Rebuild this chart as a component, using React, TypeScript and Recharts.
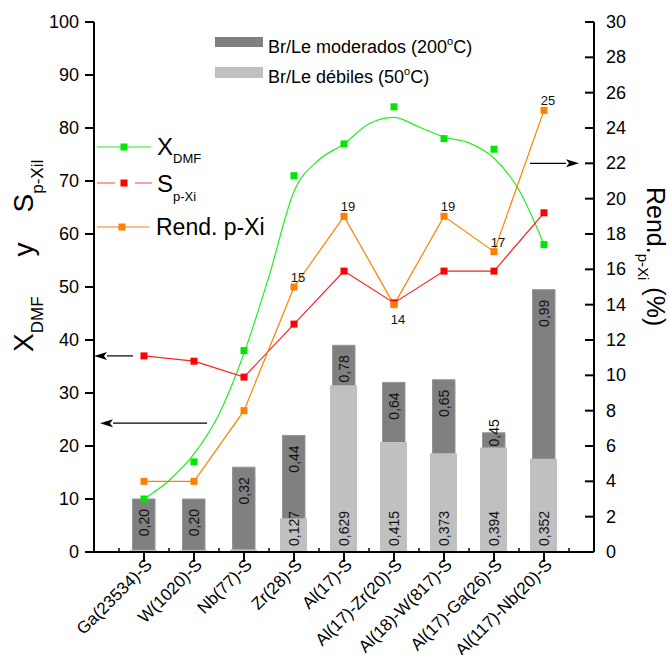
import React from "react";
import { Bar, ComposedChart, LabelList, Line, ReferenceLine, XAxis, YAxis } from "recharts";

const FONT = "'Liberation Sans', Arial, sans-serif";

const catalysts = [
  "Ga(23534)-S",
  "W(1020)-S",
  "Nb(77)-S",
  "Zr(28)-S",
  "Al(17)-S",
  "Al(17)-Zr(20)-S",
  "Al(18)-W(817)-S",
  "Al(17)-Ga(26)-S",
  "Al(117)-Nb(20)-S",
];
const catPos = [1, 2, 3, 4, 5, 6, 7, 8, 9];
// Br/Le acid sites
const brModerados = [0.2, 0.2, 0.32, 0.44, 0.78, 0.64, 0.65, 0.45, 0.99];
const brDebiles = [0.008, 0.008, 0.01, 0.127, 0.629, 0.415, 0.373, 0.394, 0.352];
// left axis (%)
const xDMF = [10, 17, 38, 71, 77, 84, 78, 76, 58];
const sPXi = [37, 36, 33, 43, 53, 47, 53, 53, 64];
// right axis (%)
const rendPXi = [4, 4, 8, 15, 19, 14, 19, 17, 25];
// trend curve drawn through X_DMF at half steps
const curvePos = [1, 1.5, 2, 2.5, 3, 3.5, 4, 4.5, 5, 5.5, 6, 6.5, 7, 7.5, 8, 8.5, 9];
const curveX = [10, 13.5, 18.5, 26, 37.5, 52, 68, 74, 77, 80.8, 82, 80.2, 78.3, 77.2, 74.3, 68.3, 58];

const leftTicks = [0, 10, 20, 30, 40, 50, 60, 70, 80, 90, 100];
const rightTicks = [0, 2, 4, 6, 8, 10, 12, 14, 16, 18, 20, 22, 24, 26, 28, 30];
const halfTicks = [0.5, 1, 1.5, 2, 2.5, 3, 3.5, 4, 4.5, 5, 5.5, 6, 6.5, 7, 7.5, 8, 8.5, 9, 9.5];

// annotation arrows: [tail, tip] in data units
const arrows = [
  { axis: "l", y: 37, from: 0.78, to: 0 },
  { axis: "l", y: 24.3, from: 2.26, to: 0.12 },
  { axis: "r", y: 22, from: 8.72, to: 9.7 },
];

const rows = catPos.map((x, i) => ({
  x,
  mod: brModerados[i],
  deb: brDebiles[i],
  xdmf: xDMF[i],
  sp: sPXi[i],
  rend: rendPXi[i],
}));
const curveRows = curvePos.map((x, i) => ({ x, fit: curveX[i] }));

const comma = (v: number, d: number) => v.toFixed(d).replace(".", ",");

const square = (color: string) => (p: any) =>
  <rect key={`sq-${p.index}`} x={p.cx - 3.5} y={p.cy - 3.5} width={7} height={7} fill={color} />;

// bottom axis: long outward ticks + label on categories, short inward ticks in between
const CatTick = (p: any) => {
  const { x, y, payload } = p;
  if (!Number.isInteger(payload.value)) {
    return <line x1={x} x2={x} y1={y} y2={y - 4} stroke="#000" strokeWidth={1.5} />;
  }
  const ax = x + 9;
  const ay = y + 14;
  return (
    <g>
      <line x1={x} x2={x} y1={y} y2={y + 10} stroke="#000" strokeWidth={2} />
      <text x={ax} y={ay} transform={`rotate(-45 ${ax} ${ay})`} textAnchor="end" fontSize={17} fill="#000">
        {catalysts[payload.value - 1]}
      </text>
    </g>
  );
};

const RightTick = (p: any) => {
  const { x, y, payload } = p;
  return (
    <g>
      <line x1={x - 9} x2={x} y1={y} y2={y} stroke="#000" strokeWidth={2} />
      <text x={x + 12} y={y + 6} fontSize={18} fill="#000">{payload.value}</text>
    </g>
  );
};

const modLabel = (p: any) => {
  const { x, y, width, height, value, index } = p;
  const cx = x + width / 2 + 5;
  const bottom = y + height;
  const lightTop = bottom - height * (brDebiles[index] / value);
  const txt = comma(value, 2);
  const len = (txt.length - 1) * 7.8 + 3.9;
  let top = y + 10;
  if (top + len > lightTop - 1) top = lightTop - 1 - len;
  return (
    <text key={`m-${index}`} x={cx} y={top} transform={`rotate(-90 ${cx} ${top})`} textAnchor="end" fontSize={14} fill="#111">
      {txt}
    </text>
  );
};

const debLabel = (p: any) => {
  const { x, y, width, height, value, index } = p;
  if (value < 0.05) return null;
  const cx = x + width / 2 + 5;
  const by = y + height - 6;
  return (
    <text key={`d-${index}`} x={cx} y={by} transform={`rotate(-90 ${cx} ${by})`} textAnchor="start" fontSize={14} fill="#111">
      {comma(value, 3)}
    </text>
  );
};

const rendLabel = (p: any) => {
  const { x, y, value, index } = p;
  if (index < 3) return null;
  const below = index === 5;
  return (
    <text key={`r-${index}`} x={x + 4} y={below ? y + 19 : y - 5} textAnchor="middle" fontSize={13} fill="#111">
      {value}
    </text>
  );
};

const arrowShape = (p: any) => {
  const { x1, y1, x2, y2 } = p;
  const dir = x2 > x1 ? 1 : -1;
  const hx = x2 - dir * 13;
  return (
    <g>
      <line x1={x1} y1={y1} x2={hx} y2={y2} stroke="#000" strokeWidth={1.2} />
      <polygon points={`${x2},${y2} ${hx},${y2 - 4} ${hx + dir * 3},${y2} ${hx},${y2 + 4}`} fill="#000" />
    </g>
  );
};

export default function App() {
  return (
    <div style={{ position: "absolute", left: 0, top: 0, width: 669, height: 655, background: "#fff", fontFamily: FONT }}>
      <ComposedChart width={669} height={655} data={rows} margin={{ top: 22, right: 0, bottom: 0, left: 0 }}>
        <XAxis
          xAxisId="b"
          dataKey="x"
          type="number"
          domain={[0, 10]}
          ticks={halfTicks}
          interval={0}
          height={103}
          tickLine={false}
          tickSize={0}
          tickMargin={0}
          tick={<CatTick />}
          stroke="#000"
          strokeWidth={2}
        />
        <XAxis xAxisId="light" dataKey="x" type="number" domain={[0, 10]} height={0} hide />
        <XAxis
          xAxisId="top"
          orientation="top"
          dataKey="x"
          type="number"
          domain={[0, 10]}
          ticks={halfTicks}
          height={0}
          mirror
          tick={false}
          tickSize={4}
          stroke="#000"
          strokeWidth={2}
        />
        <YAxis
          yAxisId="l"
          domain={[0, 100]}
          ticks={leftTicks}
          width={94}
          tickSize={9}
          tickMargin={6}
          stroke="#000"
          strokeWidth={2}
          tick={{ fontSize: 18, fill: "#000" }}
        />
        <YAxis
          yAxisId="r"
          orientation="right"
          domain={[0, 30]}
          ticks={rightTicks}
          width={75}
          tickLine={false}
          tickSize={0}
          tickMargin={0}
          tick={<RightTick />}
          stroke="#000"
          strokeWidth={2}
        />
        <YAxis yAxisId="bar" orientation="right" domain={[0, 2]} width={0} hide />

        <Bar xAxisId="b" yAxisId="bar" dataKey="mod" fill="#808080" stroke="#959595" barSize={37} isAnimationActive={false}>
          <LabelList dataKey="mod" content={modLabel} />
        </Bar>
        <Bar xAxisId="light" yAxisId="bar" dataKey="deb" fill="#c0c0c0" barSize={27} isAnimationActive={false}>
          <LabelList dataKey="deb" content={debLabel} />
        </Bar>

        <Line
          xAxisId="b"
          yAxisId="l"
          data={curveRows}
          dataKey="fit"
          type="monotone"
          stroke="#22ee22"
          strokeWidth={1.2}
          dot={false}
          isAnimationActive={false}
        />
        <Line xAxisId="b" yAxisId="l" dataKey="xdmf" stroke="none" dot={square("#00e600")} isAnimationActive={false} />
        <Line xAxisId="b" yAxisId="l" dataKey="sp" type="linear" stroke="#ff2020" strokeWidth={1.2} dot={square("#ff0000")} isAnimationActive={false} />
        <Line xAxisId="b" yAxisId="r" dataKey="rend" type="linear" stroke="#ff8000" strokeWidth={1.2} dot={square("#ff8000")} isAnimationActive={false}>
          <LabelList dataKey="rend" content={rendLabel} />
        </Line>

        {arrows.map((a, i) => (
          <ReferenceLine
            key={i}
            xAxisId="b"
            yAxisId={a.axis}
            segment={[{ x: a.from, y: a.y }, { x: a.to, y: a.y }]}
            ifOverflow="visible"
            shape={arrowShape}
          />
        ))}
      </ComposedChart>

      <svg width={669} height={655} style={{ position: "absolute", left: 0, top: 0, pointerEvents: "none" }}>
        {/* bar legend */}
        <rect x={215} y={37} width={48} height={10} fill="#808080" />
        <text x={268} y={53} fontSize={18} fill="#000">
          Br/Le moderados (200<tspan fontSize={11} dy={-8}>o</tspan><tspan dy={8}>C)</tspan>
        </text>
        <rect x={215} y={67} width={48} height={11} fill="#c0c0c0" />
        <text x={268} y={83} fontSize={18} fill="#000">
          Br/Le débiles (50<tspan fontSize={11} dy={-8}>o</tspan><tspan dy={8}>C)</tspan>
        </text>

        {/* line legend */}
        <line x1={97} x2={151} y1={147} y2={147} stroke="#22ee22" strokeWidth={1.2} />
        <rect x={120.5} y={143.5} width={7} height={7} fill="#00e600" />
        <text x={157} y={155} fontSize={24} fill="#000">
          X<tspan fontSize={13} dy={8}>DMF</tspan>
        </text>
        <line x1={97} x2={152} y1={183} y2={183} stroke="#ff4040" strokeWidth={1.2} strokeDasharray="18 20" />
        <rect x={120.5} y={179.5} width={7} height={7} fill="#ff0000" />
        <text x={157} y={192} fontSize={24} fill="#000">
          S<tspan fontSize={13} dy={9}>p-Xi</tspan>
        </text>
        <line x1={97} x2={149} y1={227} y2={227} stroke="#ff8000" strokeWidth={1.2} />
        <rect x={118.5} y={223.5} width={7} height={7} fill="#ff8000" />
        <text x={156} y={235} fontSize={23} fill="#000">Rend. p-Xi</text>

        {/* axis titles */}
        <text x={33} y={352} transform="rotate(-90 33 352)" textAnchor="start" fontSize={28} fill="#000">
          X<tspan fontSize={17} dy={10}>DMF</tspan>
          <tspan dy={-10} dx={40}>y</tspan>
          <tspan dx={30}>S</tspan>
          <tspan fontSize={17} dy={10}>p-Xil</tspan>
        </text>
        <text x={647} y={187} transform="rotate(90 647 187)" fontSize={25} fill="#000">
          Rend.<tspan fontSize={15} dy={9}>p-Xi</tspan>
          <tspan dy={-9}> (%)</tspan>
        </text>
      </svg>
    </div>
  );
}
